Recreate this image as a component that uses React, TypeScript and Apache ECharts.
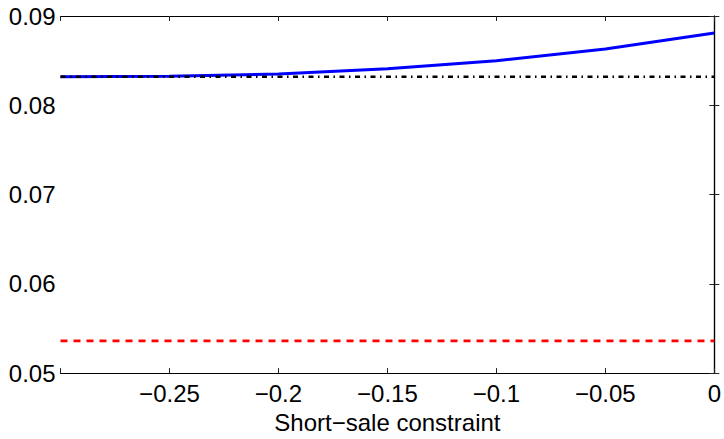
import React, { useEffect, useRef } from "react";
import * as echarts from "echarts";

const xValues = [-0.3, -0.25, -0.2, -0.15, -0.1, -0.05, 0];
const blueValues = [0.0832, 0.08326, 0.0835, 0.0841, 0.085, 0.0863, 0.0881];
const blackValues = [0.0832, 0.0832, 0.0832, 0.0832, 0.0832, 0.0832, 0.0832];
const redValues = [0.0536, 0.0536, 0.0536, 0.0536, 0.0536, 0.0536, 0.0536];
const xAxisName = "Short\u2212sale constraint";

const FONT = "'Liberation Sans', Arial, Helvetica, sans-serif";

const fmt = (v: number) => {
  if (Math.abs(v) < 1e-12) return "0";
  return String(+v.toFixed(4)).replace("-", "\u2212");
};

export default function App() {
  const ref = useRef<HTMLDivElement>(null);
  useEffect(() => {
    if (!ref.current) return;
    const chart = echarts.init(ref.current, undefined, { renderer: "svg" });
    const pairs = (ys: number[]) => xValues.map((x, i) => [x, ys[i]]);
    const axisLine = { show: true, lineStyle: { color: "#000", width: 1.2 } };
    const axisTick = { show: true, inside: true, length: 5, lineStyle: { color: "#222", width: 1 } };
    chart.setOption({
      animation: false,
      backgroundColor: "#fff",
      grid: { left: 60.5, top: 16, right: 7.5, bottom: 53, containLabel: false },
      xAxis: [
        {
          type: "value",
          min: -0.3,
          max: 0,
          interval: 0.05,
          position: "bottom",
          axisLine,
          axisTick,
          splitLine: { show: false },
          axisLabel: {
            color: "#000",
            fontSize: 24,
            fontFamily: FONT,
            margin: 8,
            formatter: (v: number) => (Math.abs(v + 0.3) < 1e-9 ? "" : fmt(v)),
          },
          name: xAxisName,
          nameLocation: "middle",
          nameGap: 31,
          nameTextStyle: { color: "#000", fontSize: 24, fontFamily: FONT },
        },
        {
          type: "value",
          min: -0.3,
          max: 0,
          interval: 0.05,
          position: "top",
          axisLine,
          axisTick,
          splitLine: { show: false },
          axisLabel: { show: false },
        },
      ],
      yAxis: [
        {
          type: "value",
          min: 0.05,
          max: 0.09,
          interval: 0.01,
          position: "left",
          axisLine,
          axisTick,
          splitLine: { show: false },
          axisLabel: {
            color: "#000",
            fontSize: 24,
            fontFamily: FONT,
            margin: 5,
            formatter: (v: number) => v.toFixed(2),
          },
        },
        {
          type: "value",
          min: 0.05,
          max: 0.09,
          interval: 0.01,
          position: "right",
          axisLine,
          axisTick,
          splitLine: { show: false },
          axisLabel: { show: false },
        },
      ],
      series: [
        {
          type: "line",
          data: pairs(blueValues),
          showSymbol: false,
          symbol: "none",
          lineStyle: { color: "#0000ff", width: 3 },
          z: 2,
        },
        {
          type: "line",
          data: pairs(blackValues),
          showSymbol: false,
          symbol: "none",
          lineStyle: { color: "#000", width: 2.5, type: [5, 4.5, 1.5, 4.5] },
          z: 3,
        },
        {
          type: "line",
          data: pairs(redValues),
          showSymbol: false,
          symbol: "none",
          lineStyle: { color: "#ff0000", width: 2.8, type: [7, 6] },
          z: 3,
        },
      ],
    });
    return () => chart.dispose();
  }, []);
  return <div ref={ref} style={{ width: 724, height: 439, position: "absolute", left: 0, top: 0 }} />;
}
